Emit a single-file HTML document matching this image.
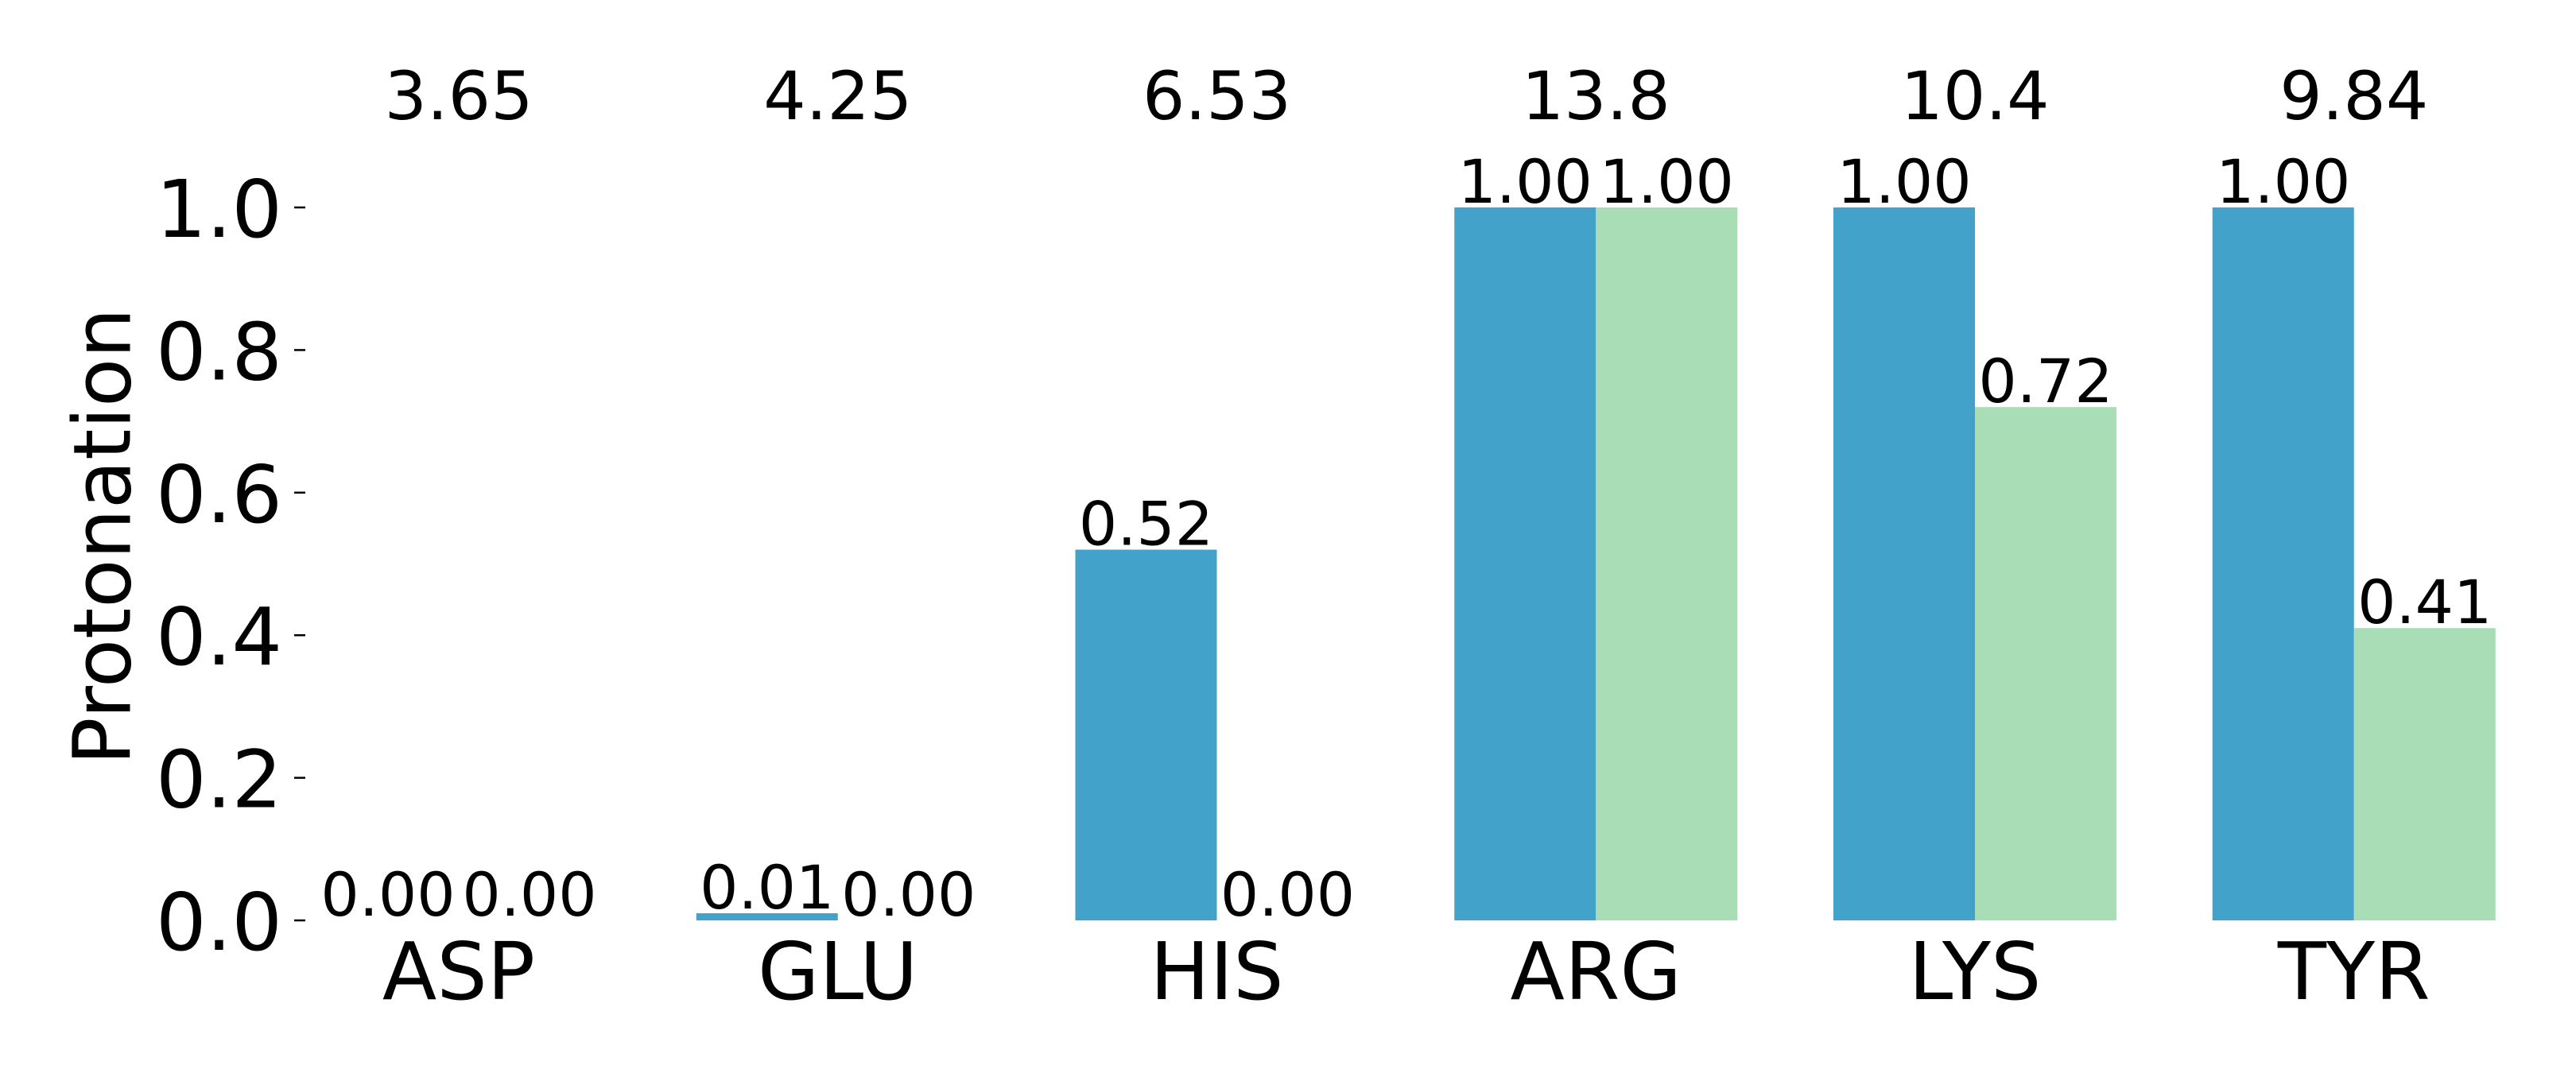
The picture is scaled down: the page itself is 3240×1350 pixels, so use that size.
<!DOCTYPE html>
<html><head><meta charset="utf-8"><style>
html,body{margin:0;padding:0;background:#fff;}
svg{display:block;font-family:"DejaVu Sans","Liberation Sans",sans-serif;}
</style></head><body>
<svg id="chart" width="3240" height="1350" viewBox="0 0 3240 1350" xmlns="http://www.w3.org/2000/svg">
<rect width="3240" height="1350" fill="#fff"/>
<text transform="translate(136,675) rotate(-90)" text-anchor="middle" dominant-baseline="middle" font-size="100">Protonation</text>
<g id="g"></g>
</svg>
<script>
const categories = ["ASP","GLU","HIS","ARG","LYS","TYR"];
const pkaLabels = ["3.65","4.25","6.53","13.8","10.4","9.84"];
const seriesA = [0.00,0.01,0.52,1.00,1.00,1.00];
const seriesB = [0.00,0.00,0.00,1.00,0.72,0.41];
const yTicks = [0.0,0.2,0.4,0.6,0.8,1.0];
const colors = ["#43a2ca","#a8ddb5"];

const y0 = 1158, y1 = 261;
const yScale = v => y0 - (y0 - y1) * v;
const xCenter = i => 577 + i * 476.75;
const barW = 178;
const NS = "http://www.w3.org/2000/svg";
const g = document.getElementById('g');
function el(tag, attrs, text){
  const e = document.createElementNS(NS, tag);
  for (const k in attrs) e.setAttribute(k, attrs[k]);
  if (text !== undefined) e.textContent = text;
  g.appendChild(e);
  return e;
}
yTicks.forEach(t => {
  const y = yScale(t);
  const tick = el('line', {x1:370, x2:384, y1:y, y2:y, stroke:'#000', 'stroke-width':2.5});
  
  
  const lab = el('text', {x:355, y:y+37, 'text-anchor':'end', 'font-size':100}, t.toFixed(1));
  
  
});
categories.forEach((c, i) => {
  const cx = xCenter(i);
  [seriesA, seriesB].forEach((s, k) => {
    const x = cx - barW + k * barW;
    const v = s[i];
    const r = el('rect', {x:x, y:yScale(v), width:barW, height:y0 - yScale(v), fill:colors[k]});
    
    
    const t = el('text', {x:x + barW/2, y:yScale(v) - 6, 'text-anchor':'middle', 'font-size':76}, v.toFixed(2));
    
    
  });
  const cl = el('text', {x:cx, y:1257, 'text-anchor':'middle', 'font-size':100}, c);
  
  
  const pl = el('text', {x:cx, y:150, 'text-anchor':'middle', 'font-size':84}, pkaLabels[i]);
  
  
});
</script>
</body></html>
